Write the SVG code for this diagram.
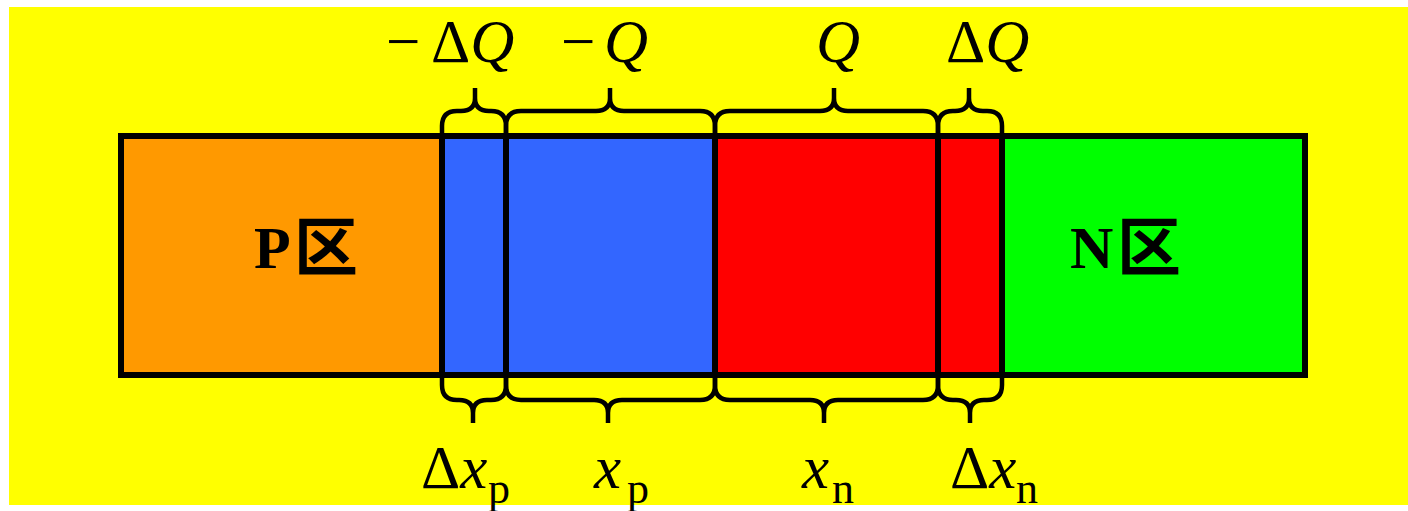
<svg xmlns="http://www.w3.org/2000/svg" width="1408" height="511" viewBox="0 0 1408 511">
<style>
.lbl{font-family:"Liberation Serif","Times New Roman",serif;font-size:61px;fill:#000}
.it{font-style:italic}
.sub{font-size:44px}
.reg{font-family:"Liberation Serif","Noto Sans CJK SC",serif;font-size:60px;font-weight:bold;fill:#000}
.cjk{font-family:"Noto Sans CJK SC",sans-serif;font-size:64px;font-weight:bold}
.div{stroke:#000;stroke-width:6;fill:none}
.brace{stroke:#000;stroke-width:4.5;fill:none;stroke-linecap:butt;stroke-linejoin:round}
</style>
<rect x="0" y="0" width="1408" height="511" fill="#ffffff"/>
<rect x="9" y="7" width="1399" height="498" fill="#ffff00"/>
<g id="p-region">
<rect x="121" y="136" width="321" height="239" fill="#ff9900"/>
<text class="reg" x="254" y="268">P<tspan class="cjk" x="294" y="270">区</tspan></text>
</g>
<g id="depletion-p-delta"><rect x="442" y="136" width="64" height="239" fill="#3366ff"/></g>
<g id="depletion-p"><rect x="506" y="136" width="209" height="239" fill="#3366ff"/></g>
<g id="depletion-n"><rect x="715" y="136" width="223" height="239" fill="#ff0000"/></g>
<g id="depletion-n-delta"><rect x="938" y="136" width="64" height="239" fill="#ff0000"/></g>
<g id="n-region">
<rect x="1002" y="136" width="303" height="239" fill="#00ff00"/>
<text class="reg" x="1070" y="268">N<tspan class="cjk" x="1117" y="270">区</tspan></text>
</g>
<g id="frame">
<rect x="121" y="136" width="1184" height="239" class="div"/>
<line x1="442" y1="136" x2="442" y2="375" class="div"/>
<line x1="506" y1="136" x2="506" y2="375" class="div"/>
<line x1="715" y1="136" x2="715" y2="375" class="div"/>
<line x1="938" y1="136" x2="938" y2="375" class="div"/>
<line x1="1002" y1="136" x2="1002" y2="375" class="div"/>
</g>
<g id="connectors">
<path class="brace" d="M442,136 L442,126 Q442,111 457,111 L461,111 Q475,111 475,98 L475,88 M475,98 Q475,111 489,111 L491,111 Q506,111 506,126 L506,136"/>
<path class="brace" d="M506,136 L506,126 Q506,111 521,111 L596,111 Q610,111 610,98 L610,88 M610,98 Q610,111 624,111 L700,111 Q715,111 715,126 L715,136"/>
<path class="brace" d="M715,136 L715,126 Q715,111 730,111 L820,111 Q834,111 834,98 L834,88 M834,98 Q834,111 848,111 L923,111 Q938,111 938,126 L938,136"/>
<path class="brace" d="M938,136 L938,126 Q938,111 953,111 L955,111 Q969,111 969,98 L969,88 M969,98 Q969,111 983,111 L987,111 Q1002,111 1002,126 L1002,136"/>
<path class="brace" d="M442,375 L442,385 Q442,400 457,400 L459,400 Q473,400 473,413 L473,423 M473,413 Q473,400 487,400 L491,400 Q506,400 506,385 L506,375"/>
<path class="brace" d="M506,375 L506,385 Q506,400 521,400 L594,400 Q608,400 608,413 L608,423 M608,413 Q608,400 622,400 L700,400 Q715,400 715,385 L715,375"/>
<path class="brace" d="M715,375 L715,385 Q715,400 730,400 L810,400 Q824,400 824,413 L824,423 M824,413 Q824,400 838,400 L923,400 Q938,400 938,385 L938,375"/>
<path class="brace" d="M938,375 L938,385 Q938,400 953,400 L956,400 Q970,400 970,413 L970,423 M970,413 Q970,400 984,400 L987,400 Q1002,400 1002,385 L1002,375"/>
</g>
<g id="top-labels">
<text class="lbl" y="62"><tspan x="386">−</tspan><tspan x="431">Δ</tspan><tspan class="it">Q</tspan></text>
<text class="lbl" y="62"><tspan x="561">−</tspan><tspan class="it" x="604">Q</tspan></text>
<text class="lbl it" x="816" y="62">Q</text>
<text class="lbl" y="62"><tspan x="946">Δ</tspan><tspan class="it">Q</tspan></text>
</g>
<g id="bottom-labels">
<text class="lbl" y="488"><tspan x="421">Δ</tspan><tspan class="it">x</tspan><tspan class="sub" x="488" y="503">p</tspan></text>
<text class="lbl" y="488"><tspan class="it" x="594">x</tspan><tspan class="sub" x="627" y="503">p</tspan></text>
<text class="lbl" y="488"><tspan class="it" x="802">x</tspan><tspan class="sub" x="832" y="503">n</tspan></text>
<text class="lbl" y="488"><tspan x="950">Δ</tspan><tspan class="it">x</tspan><tspan class="sub" x="1016" y="503">n</tspan></text>
</g>
</svg>
